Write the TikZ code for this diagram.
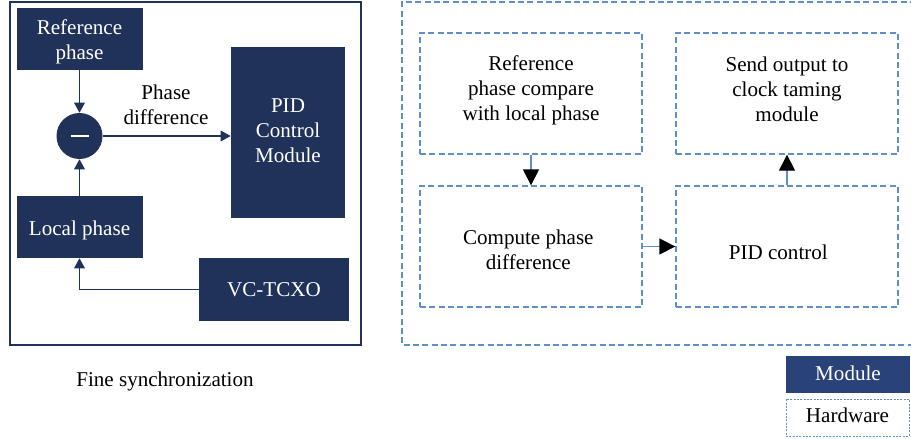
\documentclass[tikz,border=0pt]{standalone}
\usepackage{fontspec}
\setmainfont{Liberation Serif}
\usetikzlibrary{arrows.meta}
\definecolor{navy}{HTML}{203259}
\definecolor{navyleg}{HTML}{294277}
\definecolor{dashblue}{HTML}{5F8ECC}

\begin{document}
\begin{tikzpicture}[x=0.75pt,y=-0.75pt,
  every node/.style={font=\fontsize{15.8}{18.75}\selectfont, align=center, inner sep=0pt},
  solidbox/.style={fill=navy},
  whitetext/.style={text=white},
  hwbox/.style={draw=dashblue, line width=1pt, dash pattern=on 4.5pt off 2.5pt,
                minimum width=166.5pt, minimum height=90.75pt},
  navyarrow/.style={draw=navy, line width=0.9pt, -{Triangle[width=8pt,length=7.5pt]}},
  flowarrow/.style={draw=dashblue, line width=1pt, -{Triangle[black,width=12pt,length=12pt]}}]
\useasboundingbox (0,0) rectangle (911,439);

% ---------- fine synchronization loop ----------
\draw[navy, line width=0.8pt] (10,2) rectangle (361,345);

\node[solidbox, minimum width=94.5pt, minimum height=46.5pt] (ref) at (79.5,39) {};
\node[whitetext, yshift=-2.25pt] (reftxt) at (ref) {Reference\\phase};
\node[solidbox, minimum width=94.5pt, minimum height=46.5pt] (loc) at (79.5,227) {};
\node[whitetext, yshift=-2.25pt] (loctxt) at (loc) {Local phase};
\node[circle, fill=navy, minimum size=34.5pt] (sub) at (79.5,136) {};
\draw[white, line width=2.2pt] ([xshift=-6.75pt]sub.center) -- ([xshift=6.75pt]sub.center);
\node[solidbox, minimum width=85.5pt, minimum height=128.25pt] (pid) at (288,132.5) {};
\node[whitetext, yshift=1pt] (pidtxt) at (pid) {PID\\Control\\Module};
\node[solidbox, minimum width=112.5pt, minimum height=47.25pt] (vco) at (274,289.5) {};
\node[whitetext] (vcotxt) at (vco) {VC-TCXO};

\draw[navyarrow] (ref.south) -- (sub.north);
\draw[navyarrow] (loc.north) -- (sub.south);
\draw[navyarrow] (sub.east) -- (pid.west |- sub.east);
\node (pdlab) at (166,105) {Phase\\difference};
\draw[navyarrow] (vco.west) -| (loc.south);

\node (cap) at (165,381.5) {Fine synchronization};

% ---------- processing steps ----------
\draw[dashblue, line width=1pt, dash pattern=on 4.5pt off 2.5pt]
  (916,2) -- (402,2) -- (402,345) -- (916,345);

\node[hwbox] (cmp) at (531,93.5) {};
\node[yshift=2.25pt] (cmptxt) at (cmp) {Reference\\phase compare\\with local phase};
\node[hwbox] (snd) at (787,93.5) {};
\node[yshift=3.5pt] (sndtxt) at (snd) {Send output to\\clock taming\\module};
\node[hwbox] (dif) at (531,246.5) {};
\node[xshift=-2pt, yshift=-2.6pt] (diftxt) at (dif) {Compute phase\\difference};
\node[hwbox] (ctl) at (787,246.5) {};
\node[xshift=-6.5pt, yshift=-4.5pt] (ctltxt) at (ctl) {PID control};

\draw[flowarrow] (cmp.south) -- (dif.north);
\draw[flowarrow] (dif.east) -- (ctl.west);
\draw[flowarrow] (ctl.north) -- (snd.south);

% ---------- legend ----------
\node[fill=navyleg, minimum width=93pt, minimum height=27.75pt] (legm) at (848,374.5) {};
\node[whitetext, yshift=1.2pt] (legmtxt) at (legm) {Module};
\node[draw=dashblue, line width=0.6pt, dash pattern=on 1.5pt off 1pt,
      minimum width=92.25pt, minimum height=27.75pt] (legh) at (847.5,417.5) {};
\node[yshift=2pt] (leghtxt) at (legh) {Hardware};
\end{tikzpicture}
\end{document}
